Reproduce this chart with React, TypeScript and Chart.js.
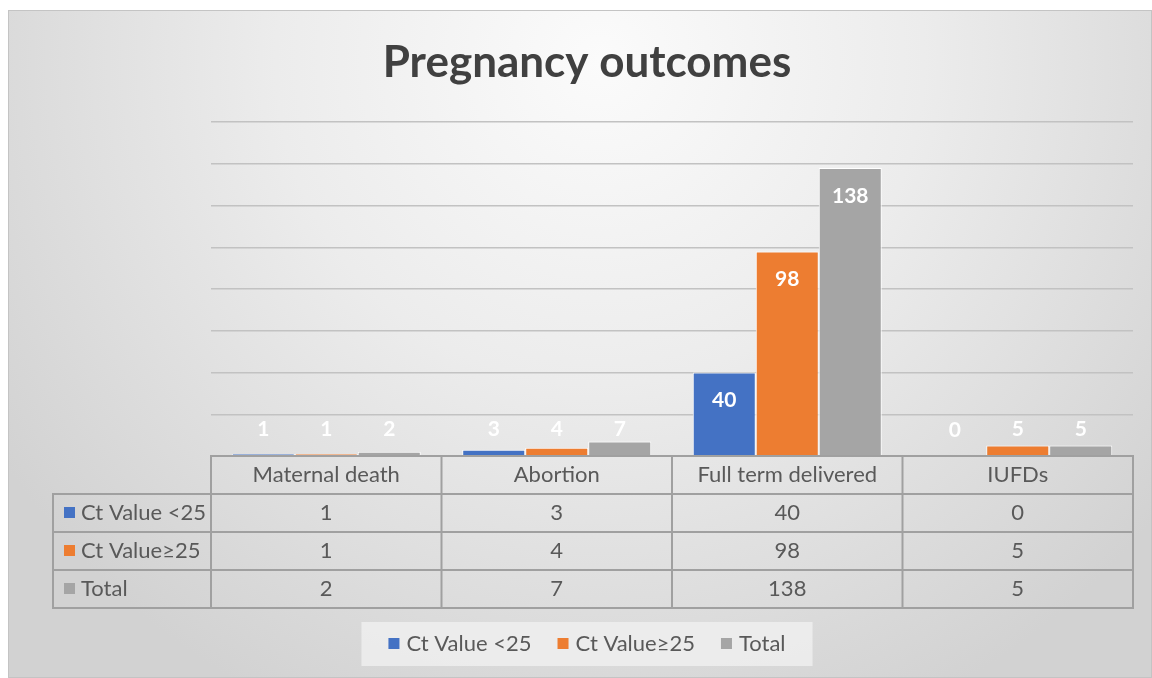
import React, { useEffect, useRef } from "react";
import { Chart, registerables } from "chart.js";

Chart.register(...registerables);

const categories = ["Maternal death", "Abortion", "Full term delivered", "IUFDs"];
const seriesNames = ["Ct Value <25", "Ct Value\u226525", "Total"];
const ctBelow25 = [1, 3, 40, 0];
const ctAbove25 = [1, 4, 98, 5];
const totals = [2, 7, 138, 5];
const seriesColors = ["#4472C4", "#ED7D31", "#A5A5A5"];
const yMax = 160;
const yStep = 20;
const titleText = "Pregnancy outcomes";

const FONT = "Lato, 'Open Sans', sans-serif";
const TEXT = "#595959";

const decorPlugin = {
  id: "decor",
  beforeDraw(chart: any) {
    const { ctx, width, height } = chart;
    ctx.save();
    ctx.fillStyle = "#ffffff";
    ctx.fillRect(0, 0, width, height);
    const g = ctx.createRadialGradient(600, 60, 0, 600, 60, 720);
    g.addColorStop(0, "#fbfbfb");
    g.addColorStop(0.45, "#ececec");
    g.addColorStop(1, "#d2d2d2");
    ctx.fillStyle = g;
    ctx.fillRect(8, 10, width - 8, height - 10);
    ctx.strokeStyle = "#c4c4c4";
    ctx.lineWidth = 1;
    ctx.strokeRect(8.5, 10.5, width - 9, height - 11);
    ctx.restore();
  },
  afterDatasetsDraw(chart: any) {
    const { ctx } = chart;
    ctx.save();
    ctx.font = `bold 21px ${FONT}`;
    ctx.fillStyle = "#ffffff";
    ctx.textAlign = "center";
    ctx.textBaseline = "middle";
    chart.data.datasets.forEach((ds: any, di: number) => {
      const meta = chart.getDatasetMeta(di);
      meta.data.forEach((bar: any, i: number) => {
        const h = bar.base - bar.y;
        const y = h > 56 ? bar.y + 28 : bar.base - 26;
        ctx.fillText(String(ds.data[i]), bar.x, y);
      });
    });
    ctx.restore();
  },
  afterDraw(chart: any) {
    const { ctx, chartArea } = chart;
    const { left, right, bottom } = chartArea;
    const centerX = 587;
    ctx.save();
    // Title
    ctx.fillStyle = "#404040";
    ctx.font = `bold 44px ${FONT}`;
    ctx.textAlign = "center";
    ctx.textBaseline = "middle";
    ctx.fillText(titleText, centerX, 63);

    // Data table
    const colW = (right - left) / categories.length;
    const rowH = 38;
    const labelLeft = 53;
    const rows = [ctBelow25, ctAbove25, totals];
    ctx.strokeStyle = "#a0a0a0";
    ctx.lineWidth = 2;
    ctx.strokeRect(left, bottom, right - left, rowH);
    for (let c = 1; c < categories.length; c++) {
      ctx.beginPath();
      ctx.moveTo(left + c * colW, bottom);
      ctx.lineTo(left + c * colW, bottom + rowH * 4);
      ctx.stroke();
    }
    ctx.strokeRect(labelLeft, bottom + rowH, right - labelLeft, rowH * 3);
    for (let r = 2; r <= 3; r++) {
      ctx.beginPath();
      ctx.moveTo(labelLeft, bottom + r * rowH);
      ctx.lineTo(right, bottom + r * rowH);
      ctx.stroke();
    }
    ctx.beginPath();
    ctx.moveTo(left, bottom + rowH);
    ctx.lineTo(left, bottom + rowH * 4);
    ctx.stroke();

    ctx.fillStyle = TEXT;
    ctx.font = `22px ${FONT}`;
    ctx.textBaseline = "middle";
    ctx.textAlign = "center";
    categories.forEach((cat, c) => {
      ctx.fillText(cat, left + colW * (c + 0.5), bottom + rowH / 2);
    });
    rows.forEach((vals, r) => {
      vals.forEach((v, c) => {
        ctx.fillText(String(v), left + colW * (c + 0.5), bottom + rowH * (r + 1.5));
      });
    });
    ctx.textAlign = "left";
    seriesNames.forEach((name, r) => {
      const cy = bottom + rowH * (r + 1.5);
      ctx.fillStyle = seriesColors[r];
      ctx.fillRect(labelLeft + 11, cy - 6, 11, 11);
      ctx.fillStyle = TEXT;
      ctx.fillText(name, labelLeft + 28, cy);
    });

    // Legend
    const legY = 644;
    ctx.font = `22px ${FONT}`;
    const gap = 26;
    const box = 11;
    const widths = seriesNames.map((n) => ctx.measureText(n).width);
    const total = widths.reduce((a, b) => a + b, 0) + seriesNames.length * (box + 7) + gap * (seriesNames.length - 1);
    ctx.fillStyle = "rgba(240,240,240,0.8)";
    ctx.fillRect(centerX - total / 2 - 27, legY - 22, total + 54, 44);
    let x = centerX - total / 2;
    seriesNames.forEach((name, i) => {
      ctx.fillStyle = seriesColors[i];
      ctx.fillRect(x, legY - 6, box, box);
      x += box + 7;
      ctx.fillStyle = TEXT;
      ctx.fillText(name, x, legY);
      x += widths[i] + gap;
    });
    ctx.restore();
  },
};

export default function App() {
  const canvasRef = useRef<HTMLCanvasElement | null>(null);
  useEffect(() => {
    if (!canvasRef.current) return;
    const chart = new Chart(canvasRef.current, {
      type: "bar",
      data: {
        labels: categories,
        datasets: [ctBelow25, ctAbove25, totals].map((d, i) => ({
          label: seriesNames[i],
          data: d,
          backgroundColor: seriesColors[i],
          borderColor: "#ffffff",
          borderWidth: 1,
          categoryPercentage: 0.82,
          barPercentage: 1,
        })),
      },
      options: {
        animation: false,
        responsive: false,
        layout: { padding: { left: 211, right: 19, top: 122, bottom: 222 } },
        plugins: { legend: { display: false }, tooltip: { enabled: false }, title: { display: false } },
        scales: {
          x: { display: false },
          y: {
            min: 0,
            max: yMax,
            ticks: { stepSize: yStep, display: false },
            border: { display: false },
            grid: { color: "#c2c2c2", lineWidth: 1.5, drawTicks: false },
            afterFit: (scale: any) => {
              scale.width = 0;
            },
          },
        },
      },
      plugins: [decorPlugin],
    });
    return () => chart.destroy();
  }, []);
  return (
    <div style={{ position: "fixed", left: 0, top: 0, width: 1152, height: 678 }}>
      <canvas ref={canvasRef} width={1152} height={678} style={{ display: "block" }} />
    </div>
  );
}
